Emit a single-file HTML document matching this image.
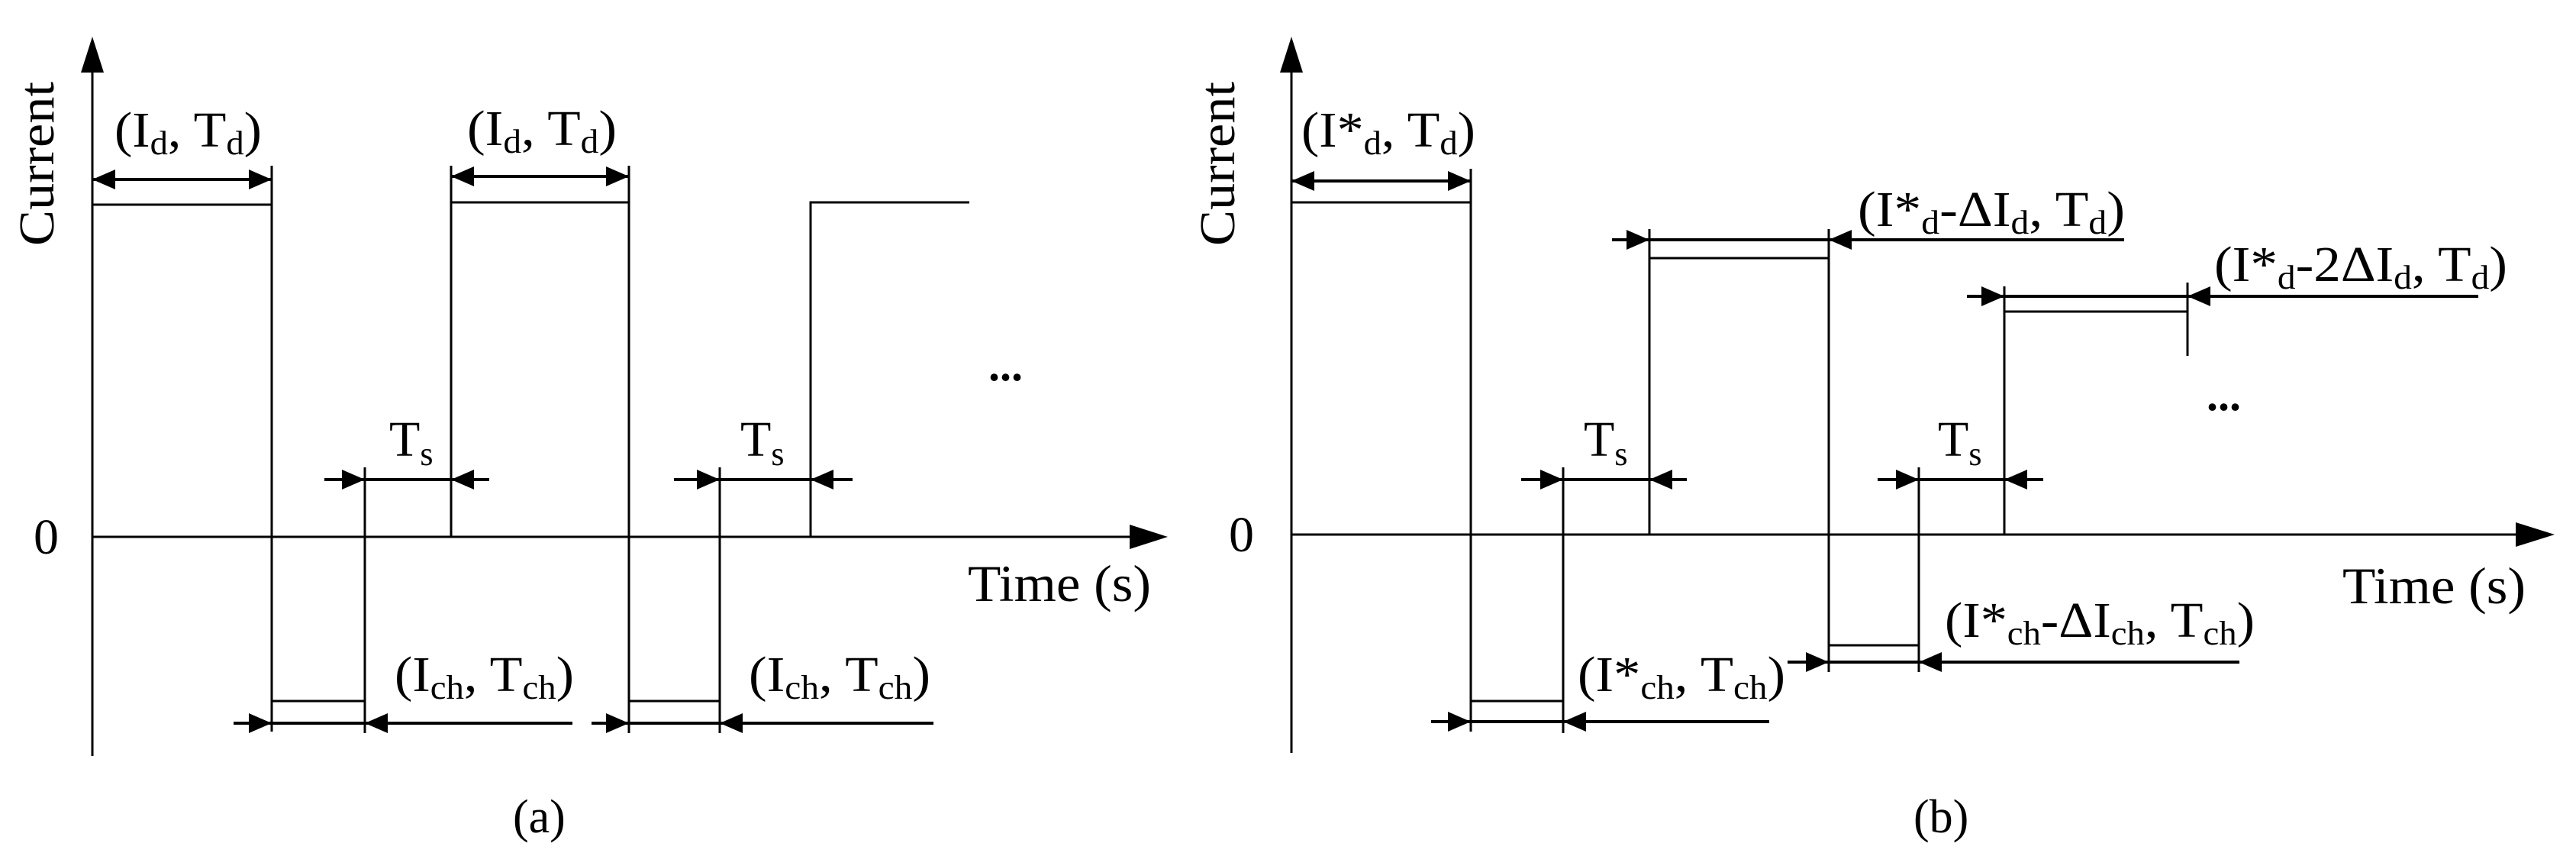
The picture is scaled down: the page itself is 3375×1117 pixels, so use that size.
<!DOCTYPE html>
<html><head><meta charset="utf-8"><style>
html,body{margin:0;padding:0;background:#fff;}
svg{display:block;}
text{font-family:"Liberation Serif",serif;fill:#000;}
</style></head><body>
<svg width="3375" height="1117" viewBox="0 0 3375 1117" xmlns="http://www.w3.org/2000/svg">
<defs>
<g id="ar"><polygon points="0,0 -30,-13 -30,13" fill="#000"/></g>
<g id="al"><polygon points="0,0 30,-13 30,13" fill="#000"/></g>
</defs>
<g stroke="#000" stroke-width="3" fill="none">
<!-- Panel (a) axes -->
<line x1="121" y1="90" x2="121" y2="990"/>
<line x1="121" y1="703" x2="1485" y2="703"/>
<!-- pulses (a) -->
<polyline points="121,268 356,268 356,958"/>
<line x1="356" y1="217" x2="356" y2="268"/>
<polyline points="356,918 478,918"/>
<line x1="478" y1="612" x2="478" y2="960"/>
<polyline points="591,703 591,217"/>
<polyline points="591,265 824,265"/>
<line x1="824" y1="217" x2="824" y2="960"/>
<polyline points="824,918 943,918"/>
<line x1="943" y1="612" x2="943" y2="960"/>
<polyline points="1062,703 1062,265 1270,265"/>
<!-- dimension lines (a) -->
<line x1="121" y1="235" x2="356" y2="235" stroke-width="4"/>
<line x1="306" y1="947" x2="750" y2="947" stroke-width="4"/>
<line x1="425" y1="628" x2="641" y2="628" stroke-width="4"/>
<line x1="591" y1="231" x2="824" y2="231" stroke-width="4"/>
<line x1="775" y1="947" x2="1223" y2="947" stroke-width="4"/>
<line x1="883" y1="628" x2="1117" y2="628" stroke-width="4"/>

<!-- Panel (b) axes -->
<line x1="1692" y1="90" x2="1692" y2="986"/>
<line x1="1692" y1="700" x2="3300" y2="700"/>
<!-- pulses (b) -->
<polyline points="1692,265 1927,265 1927,958"/>
<line x1="1927" y1="221" x2="1927" y2="265"/>
<polyline points="1927,918 2048,918"/>
<line x1="2048" y1="612" x2="2048" y2="960"/>
<polyline points="2161,700 2161,300"/>
<polyline points="2161,338 2396,338"/>
<line x1="2396" y1="300" x2="2396" y2="880"/>
<polyline points="2396,845 2514,845"/>
<line x1="2514" y1="612" x2="2514" y2="880"/>
<polyline points="2626,700 2626,375"/>
<polyline points="2626,408 2866,408"/>
<line x1="2866" y1="370" x2="2866" y2="466"/>
<!-- dimension lines (b) -->
<line x1="1692" y1="237" x2="1927" y2="237" stroke-width="4"/>
<line x1="1875" y1="945" x2="2318" y2="945" stroke-width="4"/>
<line x1="1993" y1="628" x2="2210" y2="628" stroke-width="4"/>
<line x1="2112" y1="314" x2="2783" y2="314" stroke-width="4"/>
<line x1="2342" y1="867" x2="2934" y2="867" stroke-width="4"/>
<line x1="2460" y1="628" x2="2677" y2="628" stroke-width="4"/>
<line x1="2577" y1="388" x2="3247" y2="388" stroke-width="4"/>
</g>
<!-- axis arrowheads -->
<polygon points="121,48 106,95 136,95" fill="#000"/>
<polygon points="1530,703 1480,687 1480,719" fill="#000"/>
<polygon points="1692,48 1677,95 1707,95" fill="#000"/>
<polygon points="3347,700 3296,684 3296,716" fill="#000"/>
<!-- (a) dimension arrowheads -->
<use href="#al" x="121" y="235"/><use href="#ar" x="356" y="235"/>
<use href="#ar" x="356" y="947"/><use href="#al" x="478" y="947"/>
<use href="#ar" x="478" y="628"/><use href="#al" x="591" y="628"/>
<use href="#al" x="591" y="231"/><use href="#ar" x="824" y="231"/>
<use href="#ar" x="824" y="947"/><use href="#al" x="943" y="947"/>
<use href="#ar" x="943" y="628"/><use href="#al" x="1062" y="628"/>
<!-- (b) dimension arrowheads -->
<use href="#al" x="1692" y="237"/><use href="#ar" x="1927" y="237"/>
<use href="#ar" x="1927" y="945"/><use href="#al" x="2048" y="945"/>
<use href="#ar" x="2048" y="628"/><use href="#al" x="2161" y="628"/>
<use href="#ar" x="2161" y="314"/><use href="#al" x="2396" y="314"/>
<use href="#ar" x="2396" y="867"/><use href="#al" x="2514" y="867"/>
<use href="#ar" x="2514" y="628"/><use href="#al" x="2626" y="628"/>
<use href="#ar" x="2626" y="388"/><use href="#al" x="2866" y="388"/>

<!-- Text (a) -->
<text x="0" y="0" font-size="66" transform="translate(70,322) rotate(-90)" textLength="215" lengthAdjust="spacingAndGlyphs">Current</text>
<text x="44" y="725" font-size="66">0</text>
<text x="1268" y="787" font-size="68" textLength="240" lengthAdjust="spacingAndGlyphs">Time (s)</text>
<text x="672" y="1090" font-size="62">(a)</text>
<text x="1295" y="498" font-size="60" font-weight="bold">...</text>
<text x="150" y="192" font-size="66" textLength="193" lengthAdjust="spacingAndGlyphs">(I<tspan font-size="44" dy="10">d</tspan><tspan dy="-10">, T</tspan><tspan font-size="44" dy="10">d</tspan><tspan dy="-10">)</tspan></text>
<text x="612" y="190" font-size="66" textLength="196" lengthAdjust="spacingAndGlyphs">(I<tspan font-size="44" dy="10">d</tspan><tspan dy="-10">, T</tspan><tspan font-size="44" dy="10">d</tspan><tspan dy="-10">)</tspan></text>
<text x="510" y="597" font-size="66">T<tspan font-size="44" dy="12">s</tspan></text>
<text x="970" y="597" font-size="66">T<tspan font-size="44" dy="12">s</tspan></text>
<text x="517" y="905" font-size="66" textLength="235" lengthAdjust="spacingAndGlyphs">(I<tspan font-size="44" dy="10">ch</tspan><tspan dy="-10">, T</tspan><tspan font-size="44" dy="10">ch</tspan><tspan dy="-10">)</tspan></text>
<text x="981" y="905" font-size="66" textLength="238" lengthAdjust="spacingAndGlyphs">(I<tspan font-size="44" dy="10">ch</tspan><tspan dy="-10">, T</tspan><tspan font-size="44" dy="10">ch</tspan><tspan dy="-10">)</tspan></text>

<!-- Text (b) -->
<text x="0" y="0" font-size="66" transform="translate(1617,322) rotate(-90)" textLength="215" lengthAdjust="spacingAndGlyphs">Current</text>
<text x="1610" y="722" font-size="66">0</text>
<text x="3069" y="790" font-size="68" textLength="240" lengthAdjust="spacingAndGlyphs">Time (s)</text>
<text x="2507" y="1090" font-size="62">(b)</text>
<text x="2891" y="537" font-size="60" font-weight="bold">...</text>
<text x="1705" y="192" font-size="66" textLength="228" lengthAdjust="spacingAndGlyphs">(I*<tspan font-size="44" dy="10">d</tspan><tspan dy="-10">, T</tspan><tspan font-size="44" dy="10">d</tspan><tspan dy="-10">)</tspan></text>
<text x="2434" y="296" font-size="66" textLength="350" lengthAdjust="spacingAndGlyphs">(I*<tspan font-size="44" dy="10">d</tspan><tspan dy="-10">-ΔI</tspan><tspan font-size="44" dy="10">d</tspan><tspan dy="-10">, T</tspan><tspan font-size="44" dy="10">d</tspan><tspan dy="-10">)</tspan></text>
<text x="2901" y="368" font-size="66" textLength="384" lengthAdjust="spacingAndGlyphs">(I*<tspan font-size="44" dy="10">d</tspan><tspan dy="-10">-2ΔI</tspan><tspan font-size="44" dy="10">d</tspan><tspan dy="-10">, T</tspan><tspan font-size="44" dy="10">d</tspan><tspan dy="-10">)</tspan></text>
<text x="2075" y="597" font-size="66">T<tspan font-size="44" dy="12">s</tspan></text>
<text x="2539" y="597" font-size="66">T<tspan font-size="44" dy="12">s</tspan></text>
<text x="2067" y="905" font-size="66" textLength="272" lengthAdjust="spacingAndGlyphs">(I*<tspan font-size="44" dy="10">ch</tspan><tspan dy="-10">, T</tspan><tspan font-size="44" dy="10">ch</tspan><tspan dy="-10">)</tspan></text>
<text x="2548" y="834" font-size="66" textLength="406" lengthAdjust="spacingAndGlyphs">(I*<tspan font-size="44" dy="10">ch</tspan><tspan dy="-10">-ΔI</tspan><tspan font-size="44" dy="10">ch</tspan><tspan dy="-10">, T</tspan><tspan font-size="44" dy="10">ch</tspan><tspan dy="-10">)</tspan></text>
</svg>
</body></html>
